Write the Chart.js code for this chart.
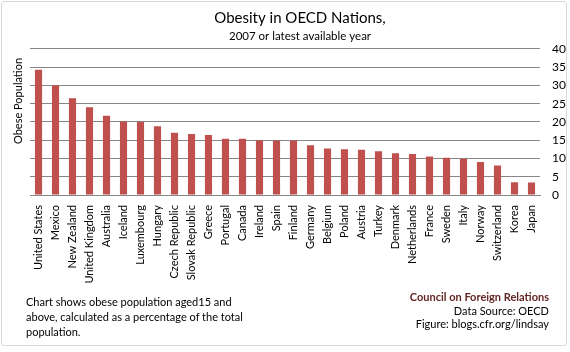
<!DOCTYPE html>
<html>
<head>
<meta charset="utf-8">
<script src="https://cdn.jsdelivr.net/npm/chart.js@4"></script>
<style>
  body { margin: 0; background: #fff; }
  #wrap { position: relative; width: 570px; height: 352px; }
  #frame { position: absolute; left: 1px; top: 1px; width: 564px; height: 343px; border: 1px solid #d9d9d9; border-radius: 3px; }
  canvas { position: absolute; left: 0; top: 0; }
  .note { position: absolute; font-family: Lato, sans-serif; font-size: 11px; color: #000; line-height: 15px; }
  #left-note { left: 26px; top: 294px; width: 330px; }
  #right-note { right: 21px; top: 290px; text-align: right; line-height: 13.5px; }
  #right-note .cfr { color: #632523; font-weight: bold; }
</style>
</head>
<body>
<div id="wrap">
  <div id="frame"></div>
  <canvas id="obesity-chart" width="570" height="352"></canvas>
  <div class="note" id="left-note">Chart shows obese population aged15 and<br>above, calculated as a percentage of the total<br>population.</div>
  <div class="note" id="right-note"><span class="cfr">Council on Foreign Relations</span><br>Data Source: OECD<br>Figure: blogs.cfr.org/lindsay</div>
</div>
<script>
var countries = ["United States", "Mexico", "New Zealand", "United Kingdom", "Australia", "Iceland",
  "Luxembourg", "Hungary", "Czech Republic", "Slovak Republic", "Greece", "Portugal", "Canada",
  "Ireland", "Spain", "Finland", "Germany", "Belgium", "Poland", "Austria", "Turkey", "Denmark",
  "Netherlands", "France", "Sweden", "Italy", "Norway", "Switzerland", "Korea", "Japan"];
var obesePct = [34.3, 30.0, 26.5, 24.0, 21.7, 20.1, 20.0, 18.8, 17.0, 16.7, 16.4, 15.4, 15.4,
  15.0, 14.9, 14.9, 13.6, 12.7, 12.5, 12.4, 12.0, 11.4, 11.2, 10.5, 10.2, 9.9, 9.0, 8.1, 3.5, 3.4];
var yTicks = [0, 5, 10, 15, 20, 25, 30, 35, 40];

// y axis title sits on the left, Excel style
var leftTitle = {
  id: 'leftTitle',
  afterDraw: function(chart) {
    var c = chart.ctx;
    c.save();
    c.translate(18, 101);
    c.rotate(-Math.PI / 2);
    c.font = '11px Lato';
    c.fillStyle = '#000';
    c.textAlign = 'center';
    c.textBaseline = 'middle';
    c.fillText('Obese Population', 0, 0);
    c.restore();
  }
};

var ctx = document.getElementById("obesity-chart");
var myChart = new Chart(ctx, {
  type: 'bar',
  data: {
    labels: countries,
    datasets: [{
      data: obesePct,
      backgroundColor: "#C0504D",
      categoryPercentage: 1,
      barPercentage: 0.42
    }]
  },
  options: {
    responsive: false,
    animation: false,
    layout: { padding: { left: 30, top: 0, right: 0, bottom: 60 } },
    plugins: {
      legend: { display: false },
      tooltip: { enabled: false },
      title: {
        display: true,
        text: 'Obesity in OECD Nations,',
        color: '#000',
        font: { family: 'Lato', size: 15, weight: 'normal' },
        padding: { top: 9, bottom: 2 }
      },
      subtitle: {
        display: true,
        text: '2007 or latest available year',
        color: '#000',
        font: { family: 'Lato', size: 11.5 },
        padding: { top: 0, bottom: 6 }
      }
    },
    scales: {
      x: {
        grid: { display: false },
        border: { color: '#868686' },
        ticks: {
          autoSkip: false, maxRotation: 90, minRotation: 90, padding: 2,
          color: '#000', font: { family: 'Lato', size: 11 }
        },
        afterFit: function(s) { s.height = 97; }
      },
      y: {
        position: 'right',
        min: 0, max: 40,
        afterBuildTicks: function(s) { s.ticks = yTicks.map(function(v) { return { value: v }; }); },
        grid: { color: '#868686', drawTicks: false },
        border: { display: false },
        ticks: { padding: 12, color: '#000', font: { family: 'Lato', size: 12 } },
        afterFit: function(s) { s.width = 30; }
      }
    }
  },
  plugins: [leftTitle]
});
</script>
</body>
</html>
